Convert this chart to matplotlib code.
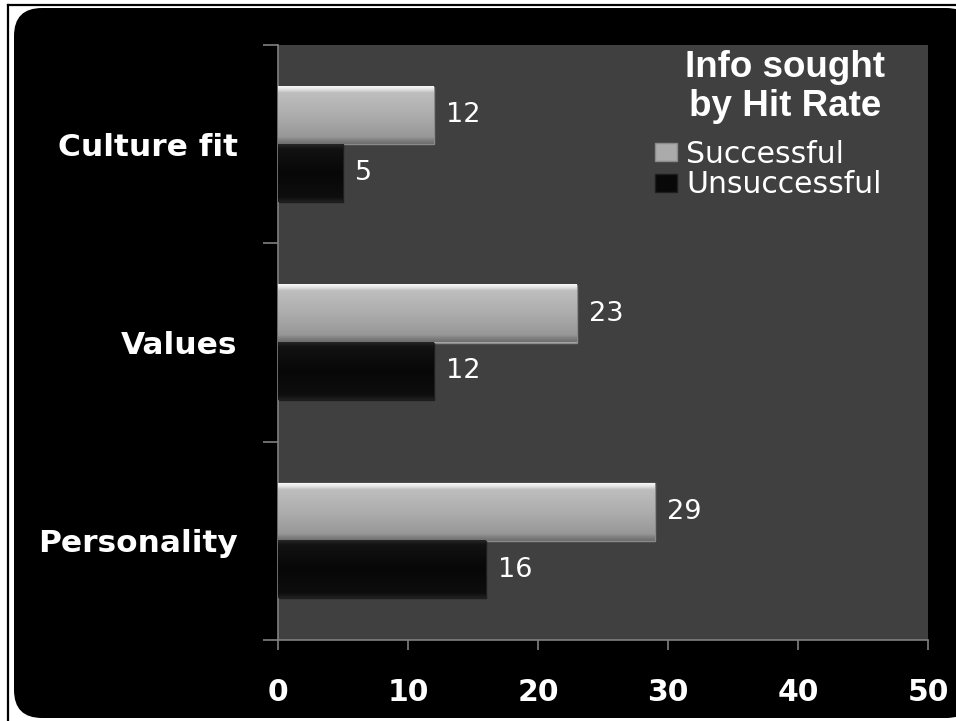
import matplotlib
matplotlib.use('Agg')
import matplotlib.pyplot as plt
import numpy as np
from matplotlib.patches import FancyBboxPatch
from matplotlib.lines import Line2D
from matplotlib.colors import LinearSegmentedColormap

categories = ['Personality', 'Values', 'Culture fit']
successful = [29, 23, 12]
unsuccessful = [16, 12, 5]
series_names = ['Successful', 'Unsuccessful']
x_ticks = [0, 10, 20, 30, 40, 50]
legend_title = 'Info sought\nby Hit Rate'

fig = plt.figure(figsize=(9.56, 7.21), dpi=100)
fig.patch.set_facecolor('white')
bg = FancyBboxPatch((0.14, 0.03), 9.60, 7.10,
                    boxstyle='round,pad=0,rounding_size=0.28',
                    transform=fig.dpi_scale_trans, facecolor='black',
                    edgecolor='none', zorder=-5)
fig.add_artist(bg)
fig.add_artist(Line2D([0.08, 9.56], [7.165, 7.165], transform=fig.dpi_scale_trans,
                      color='black', lw=1.6, zorder=-4))
fig.add_artist(Line2D([0.08, 0.08], [0, 7.165], transform=fig.dpi_scale_trans,
                      color='black', lw=1.6, zorder=-4))

ax = fig.add_axes([278/956, 81/721, 650/956, 595/721])
ax.set_facecolor('#404040')

y = np.arange(len(categories))
h = 0.29
b1 = ax.barh(y + h/2, successful, height=h, color='#ababab', edgecolor='#8a8a8a',
             linewidth=1, label=series_names[0], zorder=2)
b2 = ax.barh(y - h/2, unsuccessful, height=h, color='#080808', edgecolor='#1e1e1e',
             linewidth=1, label=series_names[1], zorder=2)

cm_s = LinearSegmentedColormap.from_list('s', [
    (0.0, '#f8f8f8'), (0.06, '#e0e0e0'), (0.11, '#bebebe'), (0.5, '#adadad'),
    (0.88, '#979797'), (0.94, '#7e7e7e'), (1.0, '#6e6e6e')])
cm_u = LinearSegmentedColormap.from_list('u', [
    (0.0, '#262626'), (0.08, '#121212'), (0.5, '#070707'),
    (0.92, '#0e0e0e'), (1.0, '#202020')])
grad = np.linspace(0, 1, 128).reshape(-1, 1)
for bars, cm in ((b1, cm_s), (b2, cm_u)):
    for r in bars:
        x0, y0, w, hh = r.get_x(), r.get_y(), r.get_width(), r.get_height()
        ax.imshow(grad, extent=[x0, x0 + w, y0, y0 + hh], aspect='auto', cmap=cm,
                  origin='upper', interpolation='bilinear', zorder=3)

for bars, vals in ((b1, successful), (b2, unsuccessful)):
    for r, v in zip(bars, vals):
        ax.text(v + 0.9, r.get_y() + r.get_height()/2, str(v), ha='left', va='center',
                color='white', fontsize=19.5, family='DejaVu Sans', zorder=4)

ax.set_xlim(0, 50)
ax.set_ylim(-0.5, 2.5)

ax.set_yticks(y)
ax.set_yticklabels(categories, fontsize=22.5, fontweight='bold', color='white',
                   family='DejaVu Sans')
ax.tick_params(axis='y', which='major', length=0, pad=29)
ax.set_yticks([-0.5, 0.5, 1.5, 2.5], minor=True)
ax.tick_params(axis='y', which='minor', length=11, color='#808080', width=1.2,
               direction='out')
ax.set_xticks(x_ticks)
ax.set_xticklabels([str(t) for t in x_ticks], fontsize=21.5, fontweight='bold',
                   color='white', family='DejaVu Sans')
ax.tick_params(axis='x', length=7.5, color='#808080', width=1.2, pad=20)
for s in ('top', 'right'):
    ax.spines[s].set_visible(False)
for s in ('left', 'bottom'):
    ax.spines[s].set_color('#808080')
    ax.spines[s].set_linewidth(1.2)

ax.text(0.78, 0.991, legend_title, transform=ax.transAxes, ha='center', va='top',
        color='white', family='Liberation Sans', fontweight='bold', fontsize=26.5,
        linespacing=1.15, multialignment='center', zorder=5)

leg = ax.legend(handles=[b1, b2], labels=series_names,
                loc='upper left', bbox_to_anchor=(0.58, 0.841), frameon=False,
                prop={'family': 'DejaVu Sans', 'size': 21.5},
                labelcolor='white', handlelength=0.75, handleheight=0.55,
                handletextpad=0.3, labelspacing=0.05, borderpad=0, borderaxespad=0)

fig.savefig('out.png', dpi=100, facecolor=fig.get_facecolor())
